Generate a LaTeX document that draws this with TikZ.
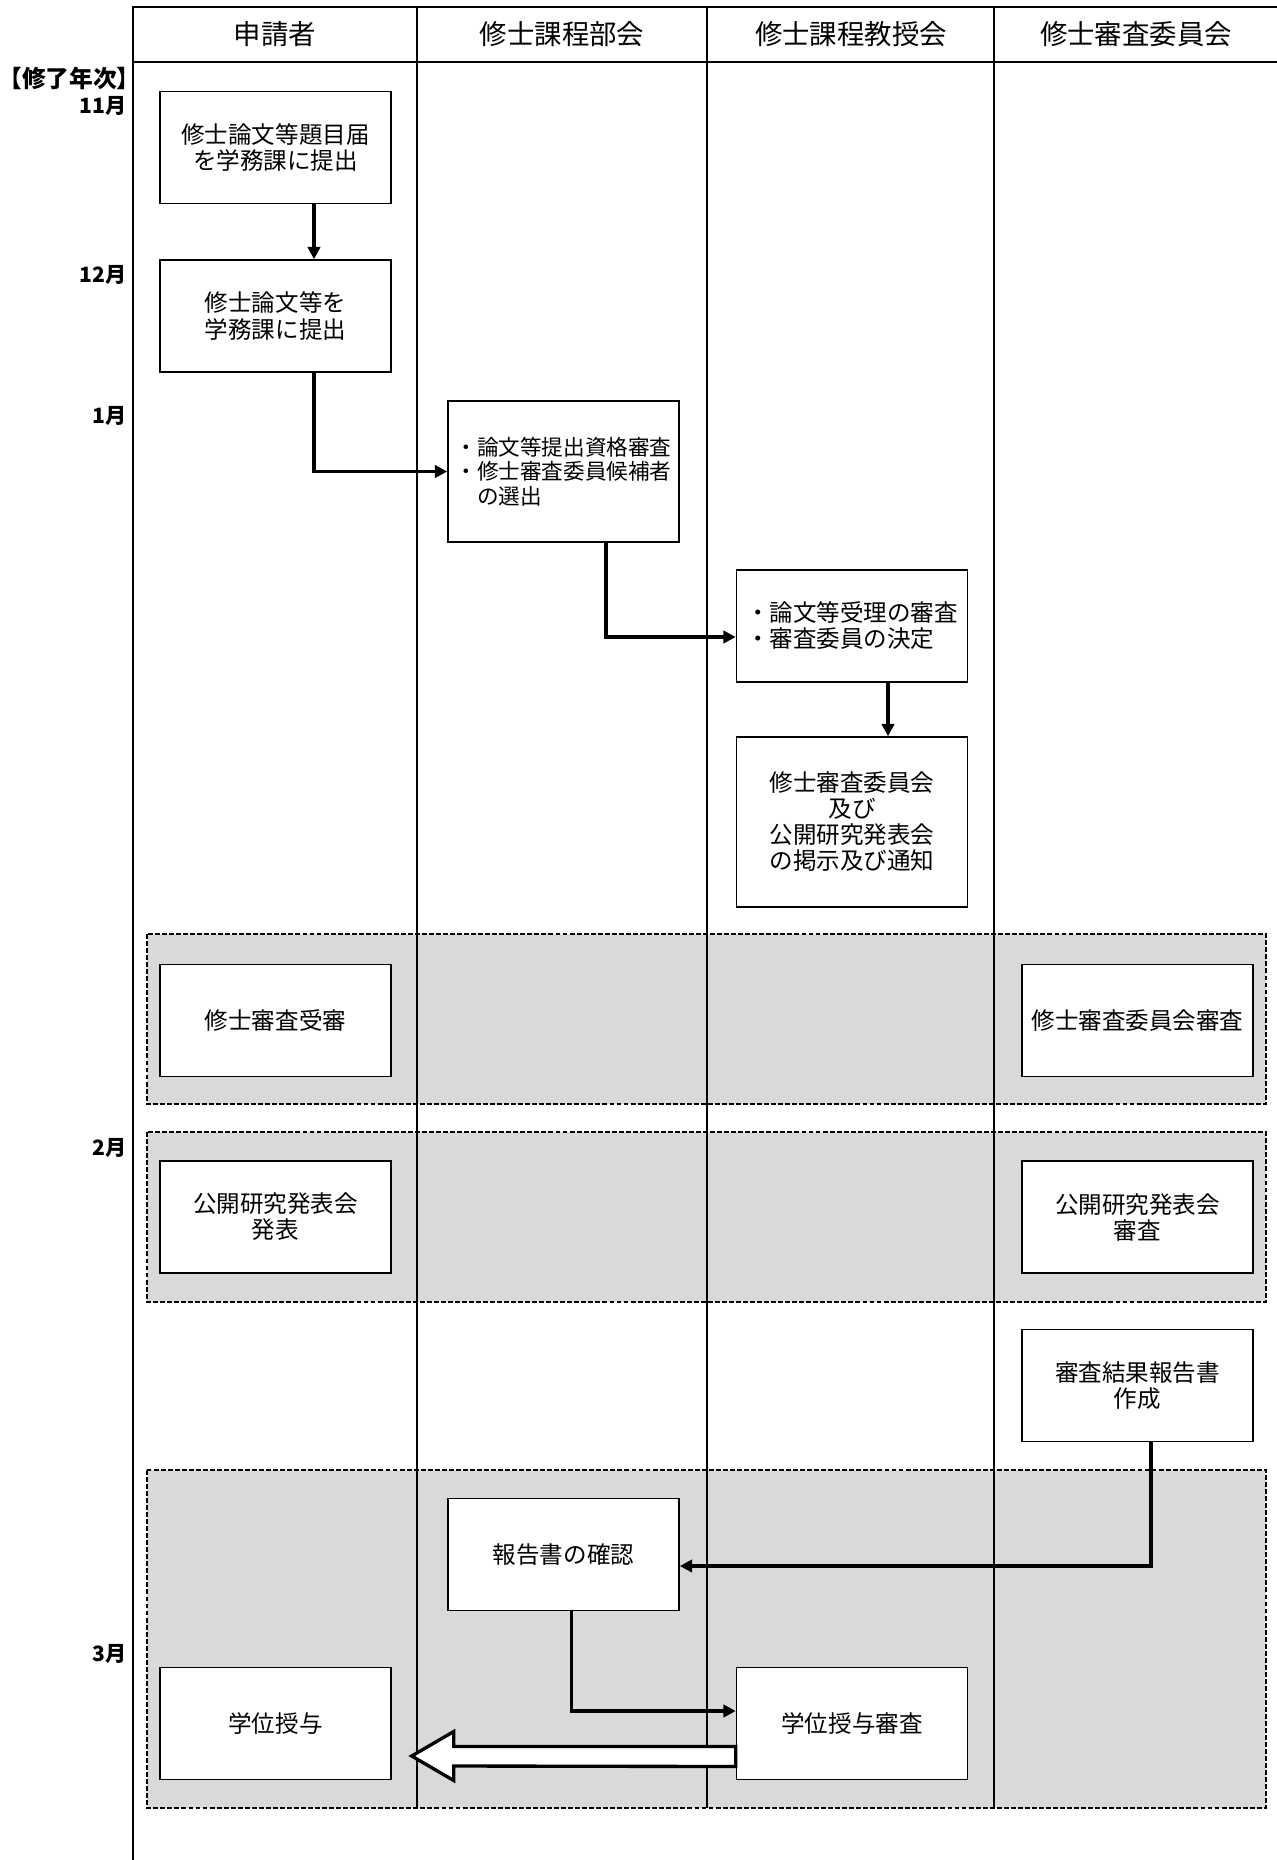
\documentclass[tikz,border=0pt]{standalone}
\usepackage{fontspec}
\setmainfont{Noto Sans CJK JP}
\usepackage{tikz}
\usetikzlibrary{positioning,arrows.meta,calc}

\definecolor{bandgray}{RGB}{217,217,217}
\newcommand{\flowboxfont}{\fontsize{13.4}{14.8}\selectfont}
\newcommand{\smallboxfont}{\fontsize{12.3}{13.8}\selectfont}
\newcommand{\laneheadfont}{\fontsize{15.6}{18}\selectfont}
\newcommand{\monthlabelfont}{\fontsize{12}{14}\selectfont\bfseries}
\newcommand{\yearlabelfont}{\fontsize{13.5}{15}\selectfont\bfseries}

\tikzset{
  lane/.style={line width=0.9pt},
  band/.style={draw, dash pattern=on 2.8pt off 1.2pt, line width=0.7pt, fill=bandgray},
  box/.style={draw, line width=0.9pt, fill=white, minimum width=4.62cm,
    minimum height=2.24cm, align=center, font=\flowboxfont},
  flow/.style={line width=2pt, -{Triangle[length=7pt,width=7pt]}},
  hollowarrow/.style={draw, fill=white, line width=1.9pt, line join=miter},
  lanehead/.style={font=\laneheadfont}
}

\begin{document}
\begin{tikzpicture}[x=0.02cm,y=-0.02cm]
            \useasboundingbox (0,0) rectangle (1277,1860);
            \draw[band] (147,934) rectangle (1266,1104);
            \draw[band] (147,1132) rectangle (1266,1302);
            \draw[band] (147,1470) rectangle (1266,1808);
            \draw[lane] (1277,7) -- (133,7) -- (133,1860);
            \draw[lane] (133,62) -- (1277,62);
            \draw[lane] (417,7) -- (417,1808);
            \draw[lane] (707,7) -- (707,1808);
            \draw[lane] (994,7) -- (994,1808);
            \node[lanehead] (applicant) at (275,34) {申請者};
            \node[lanehead] (bukai) at (562,34) {修士課程部会};
            \node[lanehead] (kyoju) at (851,34) {修士課程教授会};
            \node[lanehead] (iinkai) at (1136,34) {修士審査委員会};
            \coordinate[label={[font=\yearlabelfont, inner sep=0pt]left:【修了年次】}] (year)
                at (141,78);
            \coordinate[label={[font=\monthlabelfont, inner sep=0pt]left:11月}] (nov) at (127,106);
            \coordinate[label={[font=\monthlabelfont, inner sep=0pt]left:12月}] (dec) at (127,275);
            \coordinate[label={[font=\monthlabelfont, inner sep=0pt]left:1月}] (jan) at (127,416);
            \coordinate[label={[font=\monthlabelfont, inner sep=0pt]left:2月}] (feb) at (127,1148);
            \coordinate[label={[font=\monthlabelfont, inner sep=0pt]left:3月}] (mar) at (127,1654);
            \node[box] (shinsei1) at (275.5,147.5) {修士論文等題目届\\を学務課に提出};
            \node[box] (shinsei2) at (275.5,316) {修士論文等を\\学務課に提出};
            \node[box, minimum height=2.82cm, align=left, font=\smallboxfont] (bukai1)
                at (563.5,471.5) {・論文等提出資格審査\\・修士審査委員候補者\\　の選出};
            \node[box, align=left] (kyoju1) at (852,626) {・論文等受理の審査\\・審査委員の決定};
            \node[box, minimum height=3.4cm] (kyoju2) at (852,822)
                {修士審査委員会\\及び\\公開研究発表会\\の掲示及び通知};
            \node[box] (shinsei3) at (275.5,1020.5) {修士審査受審};
            \node[box] (iinkai1) at (1137.5,1020.5) {修士審査委員会審査};
            \node[box] (shinsei4) at (275.5,1217) {公開研究発表会\\発表};
            \node[box] (iinkai2) at (1137.5,1217) {公開研究発表会\\審査};
            \node[box] (iinkai3) at (1137.5,1385.5) {審査結果報告書\\作成};
            \node[box] (bukai2) at (563.5,1554.5) {報告書の確認};
            \node[box] (kyoju3) at (852,1723.5) {学位授与審査};
            \node[box] (shinsei5) at (275.5,1723.5) {学位授与};
            \draw[flow] ($(shinsei1.south)+(38.5,0)$) -- ($(shinsei2.north)+(38.5,0)$);
            \draw[flow] ($(shinsei2.south)+(38.5,0)$) |- (bukai1.west);
            \draw[flow] ($(bukai1.south)+(42.5,0)$) |- ($(kyoju1.west)+(0,11)$);
            \draw[flow] ($(kyoju1.south)+(36,0)$) -- ($(kyoju2.north)+(36,0)$);
            \draw[flow] ($(iinkai3.south)+(13.5,0)$) |- ($(bukai2.east)+(0,11.5)$);
            \draw[flow] ($(bukai2.south)+(8,0)$) |- ($(kyoju3.west)+(0,-12.5)$);
            \draw[hollowarrow] ($(kyoju3.west)+(0,23)$) -- ++(-282,0) -- ++(0,-15)
                -- ++(-42,24.5) -- ++(42,24.5) -- ++(0,-14.5) -- ($(kyoju3.west)+(0,43)$) -- cycle;
\end{tikzpicture}
\end{document}
